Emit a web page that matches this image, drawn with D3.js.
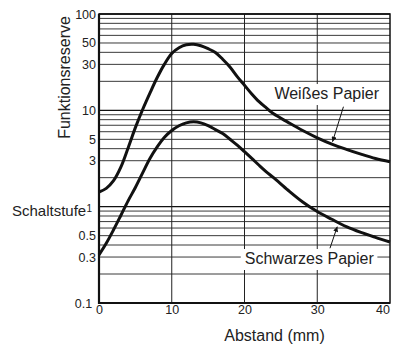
<!DOCTYPE html>
<html>
<head>
<meta charset="utf-8">
<script src="https://cdn.jsdelivr.net/npm/d3@7/dist/d3.min.js"></script>
<style>
  body { margin: 0; background: #fff; }
  svg { display: block; font-family: "Liberation Sans", Arial, Helvetica, sans-serif; }
</style>
</head>
<body>
<div id="chart"></div>
<script>
// Distance in mm
const abstand = [0, 1, 2, 3, 4, 5, 6, 7, 8, 9, 10, 11, 12, 13, 14, 15, 16, 17, 18, 19, 20,
  21, 22, 23, 24, 26, 28, 30, 32, 34, 36, 38, 40]

// Funktionsreserve, white paper
const weissesPapier = [1.42, 1.55, 1.86, 2.57, 4.07, 6.61, 10.2, 15.1, 21.9, 30.2, 38.9,
  44.7, 47.9, 48.4, 46.8, 43.6, 39.8, 33.9, 28.2, 22.4, 18.2,
  14.8, 12.3, 10.6, 9.2, 7.5, 6.17, 5.19, 4.47, 3.94, 3.51, 3.16, 2.92]

// Funktionsreserve, black paper
const schwarzesPapier = [0.316, 0.417, 0.575, 0.81, 1.15, 1.58, 2.24, 3.16, 4.17, 5.25, 6.17,
  6.92, 7.41, 7.59, 7.41, 6.92, 6.31, 5.75, 5.01, 4.35, 3.72,
  3.17, 2.69, 2.3, 2.0, 1.48, 1.12, 0.89, 0.74, 0.62, 0.54, 0.48, 0.43]

const xTicks = [0, 10, 20, 30, 40]
const yTicks = [100, 50, 30, 10, 5, 3, 1, 0.5, 0.3, 0.1]

// annotations: label anchor and arrow [from, to], in data units
const annotations = [
  { text: "Weißes Papier", at: [31.3, 13.1], from: [33.6, 10.9], to: [32.1, 4.72] },
  { text: "Schwarzes Papier", at: [28.9, 0.254], from: [31.75, 0.37], to: [32.75, 0.62] },
]

const W = 400, H = 349
const plot = { left: 99, right: 390, top: 14, bottom: 303 }

const svg = d3.select("#chart").append("svg").attr("width", W).attr("height", H)

svg.append("defs").append("marker")
  .attr("id", "arrow")
  .attr("viewBox", "0 0 10 10")
  .attr("refX", 10).attr("refY", 5)
  .attr("markerWidth", 7).attr("markerHeight", 5)
  .attr("markerUnits", "userSpaceOnUse")
  .attr("orient", "auto")
  .append("path").attr("d", "M0,0L10,5L0,10Z").attr("fill", "#111")

const x = d3.scaleLinear().domain([0, 40]).range([plot.left, plot.right])
const y = d3.scaleLog().domain([0.1, 100]).range([plot.bottom, plot.top])

// horizontal log gridlines
const gridVals = []
;[0.1, 1, 10].forEach((base) => {
  for (let k = 1; k < 10; k++) gridVals.push(+(base * k).toPrecision(3))
})
gridVals.push(100)
const isMajor = (d) => [0.1, 1, 10, 100].includes(d)

svg.append("g").selectAll("line").data(gridVals).join("line")
  .attr("x1", plot.left).attr("x2", plot.right)
  .attr("y1", (d) => y(d)).attr("y2", (d) => y(d))
  .attr("stroke", (d) => (isMajor(d) ? "#111" : "#3a3a3a"))
  .attr("stroke-width", (d) => (isMajor(d) ? 1.3 : 1))

// vertical gridlines
svg.append("g").selectAll("line").data([10, 20, 30]).join("line")
  .attr("x1", (d) => x(d)).attr("x2", (d) => x(d))
  .attr("y1", plot.top).attr("y2", plot.bottom)
  .attr("stroke", "#222").attr("stroke-width", 1)

// frame
svg.append("rect")
  .attr("x", plot.left).attr("y", plot.top)
  .attr("width", plot.right - plot.left).attr("height", plot.bottom - plot.top)
  .attr("fill", "none").attr("stroke", "#111").attr("stroke-width", 1.5)
svg.append("path")
  .attr("d", `M${plot.left},${plot.top}V${plot.bottom}H${plot.right}`)
  .attr("fill", "none").attr("stroke", "#111").attr("stroke-width", 2.2)

// label backgrounds and labels
const annG = svg.append("g")
annotations.forEach((a) => {
  const bg = annG.append("rect").attr("fill", "#fff")
  const t = annG.append("text")
    .attr("x", x(a.at[0])).attr("y", y(a.at[1]))
    .attr("text-anchor", "middle")
    .attr("font-size", 16).attr("fill", "#222")
    .text(a.text)
  const bb = t.node().getBBox()
  bg.attr("x", bb.x - 4).attr("y", bb.y - 1).attr("width", bb.width + 7).attr("height", bb.height + 4)
})

// curves
const line = d3.line()
  .x((d) => x(d[0]))
  .y((d) => y(d[1]))
  .curve(d3.curveCatmullRom)

;[weissesPapier, schwarzesPapier].forEach((vals) => {
  svg.append("path")
    .datum(abstand.map((a, i) => [a, vals[i]]))
    .attr("d", line)
    .attr("fill", "none")
    .attr("stroke", "#111")
    .attr("stroke-width", 3)
})

// arrows
annotations.forEach((a) => {
  svg.append("line")
    .attr("x1", x(a.from[0])).attr("y1", y(a.from[1]))
    .attr("x2", x(a.to[0])).attr("y2", y(a.to[1]))
    .attr("stroke", "#111").attr("stroke-width", 1)
    .attr("marker-end", "url(#arrow)")
})

// axes
const xAxis = svg.append("g")
  .attr("transform", `translate(0,${plot.bottom})`)
  .call(d3.axisBottom(x).tickValues(xTicks).tickSize(0).tickPadding(2))
xAxis.select(".domain").remove()
xAxis.selectAll("text").attr("font-size", 12.5).attr("fill", "#222")
  .filter((d) => d === 40).attr("dx", "-0.6em")

const yAxis = svg.append("g")
  .attr("transform", `translate(${plot.left},0)`)
  .call(d3.axisLeft(y).tickValues(yTicks).tickSize(0).tickPadding(3)
    .tickFormat((d) => String(d)))
yAxis.select(".domain").remove()
yAxis.selectAll("text").attr("font-size", 12.5).attr("fill", "#222")
yAxis.selectAll("text").filter((d) => d === 1)
  .attr("font-size", 10).attr("dy", "0.45em").attr("dx", "-0.4em")
yAxis.selectAll("text").filter((d) => d === 0.1).attr("dx", "-0.3em")

// axis titles
svg.append("text")
  .attr("transform", `translate(70,${(15 + 140) / 2}) rotate(-90)`)
  .attr("text-anchor", "middle")
  .attr("font-size", 16).attr("fill", "#222")
  .text("Funktionsreserve")

svg.append("text")
  .attr("x", 12).attr("y", 216)
  .attr("font-size", 15).attr("fill", "#222")
  .text("Schaltstufe")

svg.append("text")
  .attr("x", (plot.left + plot.right) / 2 + 30).attr("y", 341)
  .attr("text-anchor", "middle")
  .attr("font-size", 16).attr("fill", "#222")
  .text("Abstand (mm)")
</script>
</body>
</html>
